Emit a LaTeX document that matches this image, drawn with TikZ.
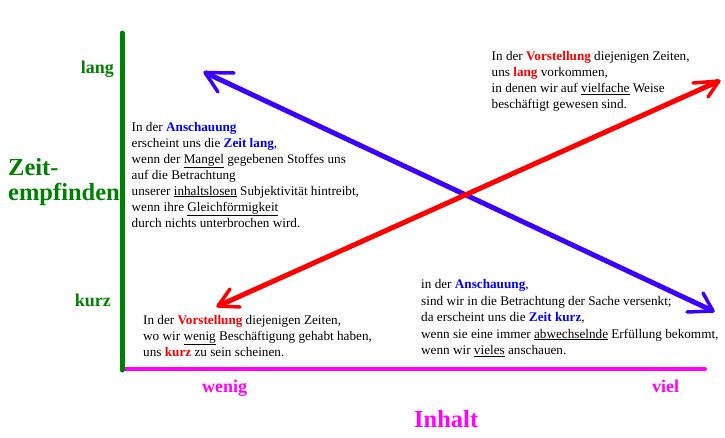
\documentclass[tikz,border=0pt]{standalone}
\usepackage{fontspec}
\setmainfont{Liberation Serif}
\definecolor{axgreen}{RGB}{0,128,0}
\definecolor{axmag}{RGB}{255,0,255}
\definecolor{arrblue}{RGB}{60,0,255}
\definecolor{arrred}{RGB}{255,0,0}
\definecolor{tblue}{RGB}{0,0,255}
\definecolor{tred}{RGB}{255,0,0}
\newcommand\hlb[1]{\textbf{\color{tblue}#1}}
\newcommand\hlr[1]{\textbf{\color{tred}#1}}
\tikzset{
  txt/.style={inner sep=0pt, anchor=base west, font=\fontsize{13.2}{16}\selectfont},
  txtb/.style={inner sep=0pt, anchor=base west, font=\fontsize{13.2}{16.5}\selectfont},
  axlab/.style={inner sep=0pt, font=\fontsize{18}{20}\selectfont\bfseries},
  biglab/.style={inner sep=0pt, font=\fontsize{24.5}{25}\selectfont\bfseries},
  gaxis/.style={draw=axgreen, line width=5pt, line cap=round},
  maxis/.style={draw=axmag, line width=4pt, line cap=round},
  barrow/.style={draw=arrblue, line width=5pt},
  bhead/.style={draw=arrblue, line width=3.5pt, line cap=round, line join=round},
  rarrow/.style={draw=arrred, line width=5pt},
  rhead/.style={draw=arrred, line width=3.5pt, line cap=round, line join=round}
}
\begin{document}
\begin{tikzpicture}[x=1pt,y=-1pt]
\useasboundingbox[fill=white] (0,0) rectangle (725,437);
% axes
\coordinate (o) at (122,369);
\coordinate (ytop) at (122,33);
\coordinate (xend) at (705,369);
\coordinate (obot) at (122,370);
\draw[maxis] (o) -- (xend);
\draw[gaxis] (ytop) -- (obot);
% axis labels
\node[axlab, text=axgreen, anchor=base east] (lang) at (114,73) {lang};
\node[axlab, text=axgreen, anchor=base east] (kurz) at (111,306.5) {kurz};
\node[biglab, text=axgreen, anchor=base west, align=left] (zeit) at (8,175) {Zeit-};
\node[biglab, text=axgreen, anchor=base west] (empf) at (8,200) {empfinden};
\node[axlab, text=axmag, anchor=base west] (wenig) at (202,392) {wenig};
\node[axlab, text=axmag, anchor=base west] (viel) at (652,392) {viel};
\node[biglab, text=axmag, anchor=base west] (inhalt) at (414,427) {Inhalt};
% arrows
\coordinate (A) at (205,72.5);
\coordinate (A1) at (234,73);
\coordinate (A2) at (218,92);
\coordinate (B) at (713,311);
\coordinate (B1) at (703,293);
\coordinate (B2) at (687,312);
\coordinate (C) at (218,306);
\coordinate (C1) at (230,289);
\coordinate (C2) at (240,307);
\coordinate (D) at (719,81);
\coordinate (D1) at (693,83);
\coordinate (D2) at (708,97);
\draw[barrow] (A) -- (B);
\draw[bhead] (A1) -- (A) -- (A2);
\draw[bhead] (B1) -- (B) -- (B2);
\draw[rarrow] (C) -- (D);
\draw[rhead] (C1) -- (C) -- (C2);
\draw[rhead] (D1) -- (D) -- (D2);
% text blocks
\node[txt] (tl) at (131.5,131) {\begin{tabular}[t]{@{}l@{}}
In der \hlb{Anschauung}\\
erscheint uns die \hlb{Zeit lang},\\
wenn der \underline{Mangel} gegebenen Stoffes uns\\
auf die Betrachtung\\
unserer \underline{inhaltslosen} Subjektivität hintreibt,\\
wenn ihre \underline{Gleichförmigkeit}\\
durch nichts unterbrochen wird.
\end{tabular}};
\node[txt] (tr) at (491.5,60.5) {\begin{tabular}[t]{@{}l@{}}
In der \hlr{Vorstellung} diejenigen Zeiten,\\
uns \hlr{lang} vorkommen,\\
in denen wir auf \underline{vielfache} Weise\\
beschäftigt gewesen sind.
\end{tabular}};
\node[txt] (bl) at (143,324) {\begin{tabular}[t]{@{}l@{}}
In der \hlr{Vorstellung} diejenigen Zeiten,\\
wo wir \underline{wenig} Beschäftigung gehabt haben,\\
uns \hlr{kurz} zu sein scheinen.
\end{tabular}};
\node[txtb] (br) at (421,288.5) {\begin{tabular}[t]{@{}l@{}}
in der \hlb{Anschauung},\\
sind wir in die Betrachtung der Sache versenkt;\\
da erscheint uns die \hlb{Zeit kurz},\\
wenn sie eine immer \underline{abwechselnde} Erfüllung bekommt,\\
wenn wir \underline{vieles} anschauen.
\end{tabular}};
\end{tikzpicture}
\end{document}
